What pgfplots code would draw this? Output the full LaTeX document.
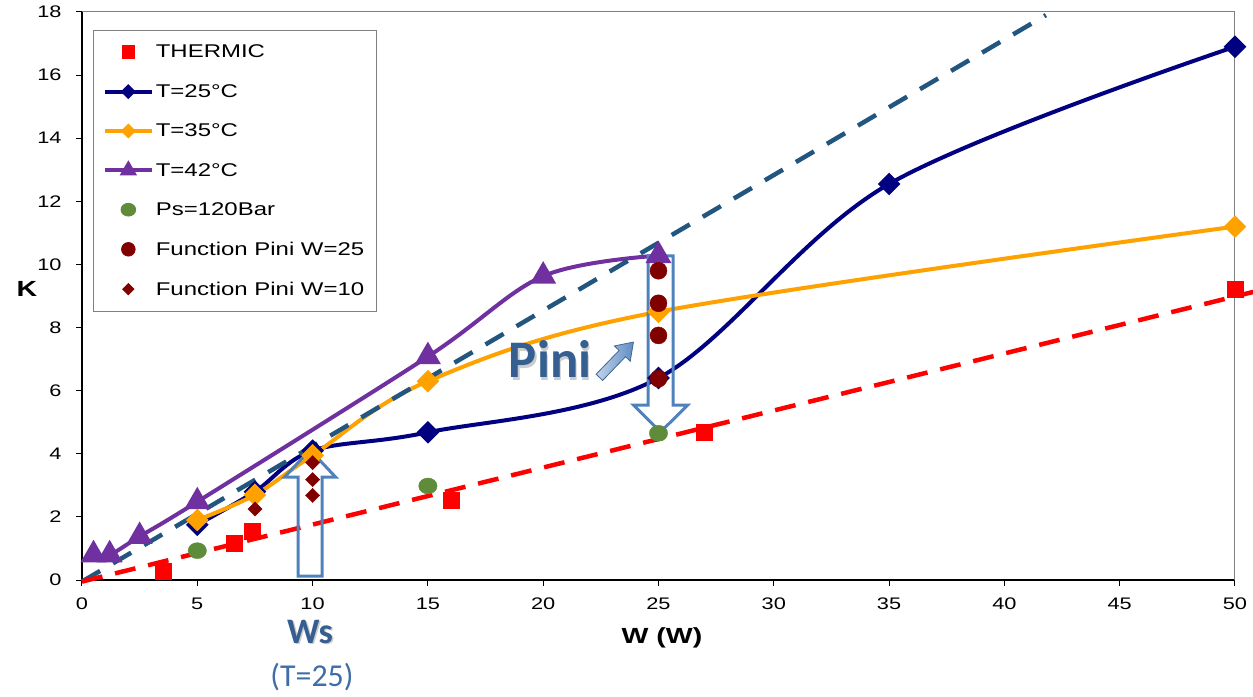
\documentclass[border=0pt]{standalone}
\usepackage{pgfplots}
\pgfplotsset{compat=1.18}
\usepackage{fontspec}
\setmainfont{Liberation Sans}[FakeStretch=1.3]
\newfontfamily\calibri{Carlito}
\definecolor{knavy}{HTML}{000080}
\definecolor{korange}{HTML}{FFA200}
\definecolor{kpurple}{HTML}{7030A0}
\definecolor{kgreen}{HTML}{5E8C3A}
\definecolor{kmaroon}{HTML}{800000}
\definecolor{kdash}{HTML}{22567F}
\definecolor{karrow}{HTML}{4F81BD}
\definecolor{ktext}{HTML}{365F91}
\definecolor{ktext2}{HTML}{3E6DA8}
\begin{document}
\begin{tikzpicture}
\useasboundingbox (-82bp,-117bp) rectangle (1171bp,580bp);
\begin{axis}[
  at={(0bp,0bp)}, anchor=south west,
  scale only axis, width=1153bp, height=568bp,
  xmin=0, xmax=50, ymin=0, ymax=18,
  xtick={0,5,...,50}, ytick={0,2,...,18},
  axis x line*=bottom, axis y line*=left,
  tick align=outside, major tick length=6bp,
  tick style={black, line width=1bp},
  axis line style={black, line width=1.2bp},
  ticklabel style={font=\fontsize{16.8}{18}\selectfont},
  yticklabel style={xshift=-11bp},
  xticklabel style={yshift=-8bp},
  /pgf/number format/assume math mode=true,
  clip=false,
  legend cell align=left,
  legend style={at={(axis description cs:0.0095,0.968)}, anchor=north west,
    draw=gray, line width=0.8bp, font=\fontsize{18.5}{20}\selectfont,
    row sep=20bp, inner xsep=10bp, inner ysep=12bp, nodes={inner sep=2.5bp}},
  legend image code/.code={\draw[mark repeat=2,mark phase=2,/tikz/every mark/.append style={scale=0.55}] plot coordinates {(0bp,0bp) (23bp,0bp) (46bp,0bp)};},
  marklegend/.style={legend image code/.code={\draw[mark repeat=2,mark phase=2,/tikz/every mark/.append style={scale=0.8}] plot coordinates {(0bp,0bp) (23bp,0bp) (46bp,0bp)};}},
]
\draw[gray, line width=1bp] (rel axis cs:0,1) -- (rel axis cs:1,1) -- (rel axis cs:1,0);

\addplot[only marks, mark=square*, mark size=8bp, color=red, marklegend]
  coordinates {(3.5,0.27) (6.6,1.17) (7.4,1.55) (16,2.52) (27,4.68) (50,9.2)};
\addlegendentry{THERMIC}

\addplot[knavy, line width=4bp, smooth, tension=0.55, mark=square*, mark size=6bp, mark options={rotate=45}]
  coordinates {(5,1.75) (7.5,2.8) (10,4.1) (15,4.68) (25,6.4) (35,12.55) (50,16.9)};
\addlegendentry{T=25°C}

\addplot[korange, line width=4bp, smooth, tension=0.55, mark=square*, mark size=6bp, mark options={rotate=45}]
  coordinates {(5,1.9) (7.5,2.7) (10,3.95) (15,6.3) (25,8.5) (50,11.2)};
\addlegendentry{T=35°C}

\addplot[kpurple, line width=4bp, smooth, tension=0.55, mark=triangle*, mark size=11bp]
  coordinates {(0.5,0.8) (1.2,0.8) (2.5,1.38) (5,2.48) (15,7.08) (20,9.63) (25,10.28)};
\addlegendentry{T=42°C}

\addplot[kdash, line width=4.5bp, dash pattern=on 21bp off 15bp, forget plot]
  coordinates {(0,-0.05) (41.8,17.9)};
\addplot[red, line width=4.5bp, dash pattern=on 21bp off 13bp, forget plot]
  coordinates {(0,-0.05) (50.8,9.13)};

\addplot[only marks, mark=*, mark size=8bp, mark options={xscale=1.15}, color=kgreen, marklegend]
  coordinates {(5,0.93) (15,2.98) (25,4.65)};
\addlegendentry{Ps=120Bar}

\addplot[only marks, mark=*, mark size=8.5bp, color=kmaroon, marklegend]
  coordinates {(25,9.8) (25,8.77) (25,7.75) (25,6.38)};
\addlegendentry{Function Pini W=25}

\addplot[only marks, mark=square*, mark size=5bp, mark options={rotate=45}, color=kmaroon, marklegend]
  coordinates {(7.5,2.25) (10,2.68) (10,3.18) (10,3.72)};
\addlegendentry{Function Pini W=10}

% hollow block arrows
\draw[karrow, line width=3bp, line join=miter]
  (axis cs:9.37,0.12) -- (axis cs:10.41,0.12) -- (axis cs:10.41,3.26) -- (axis cs:11.0,3.26)
  -- (axis cs:9.89,4.12) -- (axis cs:8.78,3.26) -- (axis cs:9.37,3.26) -- cycle;
\draw[karrow, line width=3bp, line join=miter]
  (axis cs:24.55,10.27) -- (axis cs:25.63,10.27) -- (axis cs:25.63,5.54) -- (axis cs:26.26,5.54)
  -- (axis cs:25.09,4.69) -- (axis cs:23.92,5.54) -- (axis cs:24.55,5.54) -- cycle;

\node[font=\calibri\bfseries\fontsize{53}{53}\selectfont, text=gray!40] at (axis cs:20.37,6.9) {Pini};
\node[font=\calibri\bfseries\fontsize{53}{53}\selectfont, text=ktext] at (axis cs:20.3,7.0) {Pini};
\begin{scope}[shift={(axis cs:23.16,6.97)}, rotate=46]
  \draw[karrow!80!black, line width=0.8bp, line join=miter, left color=karrow!35!white, right color=karrow!90!white]
    (-24bp,-4.5bp) -- (9bp,-4.5bp) -- (9bp,-11bp) -- (25bp,0bp) -- (9bp,11bp) -- (9bp,4.5bp) -- (-24bp,4.5bp) -- cycle;
\end{scope}
\end{axis}
\node[font=\bfseries\fontsize{22}{22}\selectfont] at (-55bp,291bp) {K};
\node[font=\bfseries\fontsize{22}{22}\selectfont] at (580bp,-58bp) {W (W)};
\node[font=\calibri\bfseries\fontsize{36}{36}\selectfont, text=gray!40] at (229.5bp,-53.5bp) {Ws};
\node[font=\calibri\bfseries\fontsize{36}{36}\selectfont, text=ktext] at (228bp,-52bp) {Ws};
\node[font=\calibri\fontsize{32}{32}\selectfont, text=ktext2] at (230bp,-97bp) {(T=25)};
\end{tikzpicture}
\end{document}
